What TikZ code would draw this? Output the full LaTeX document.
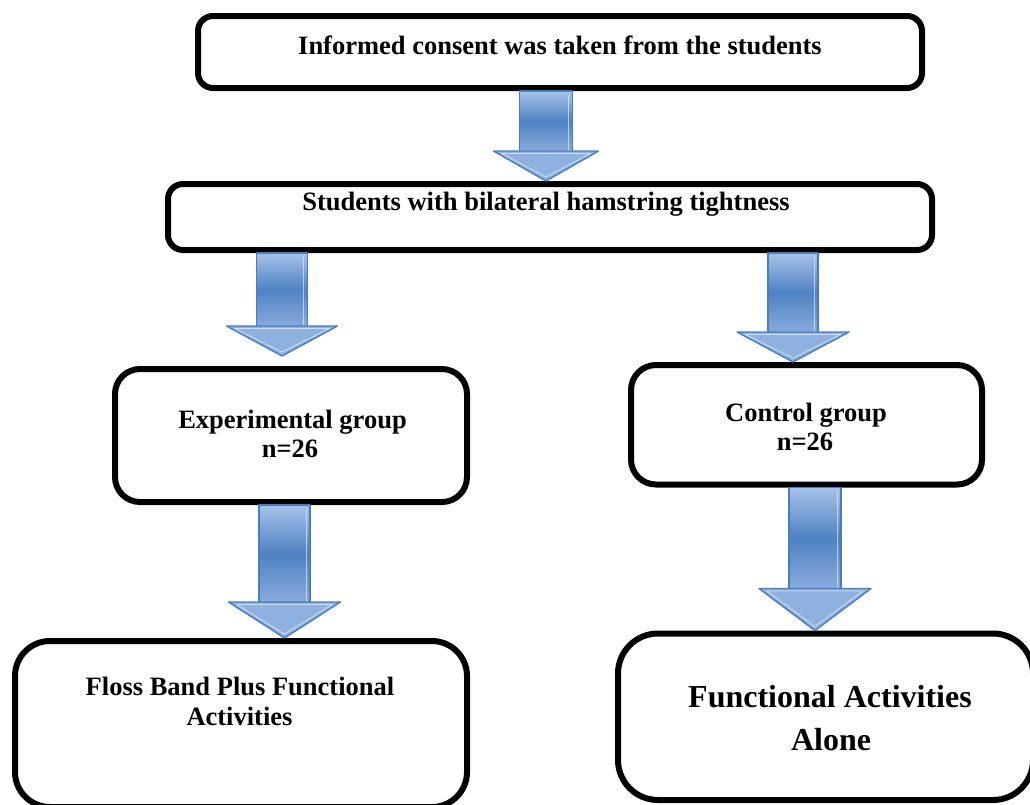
\documentclass[tikz,border=0pt]{standalone}
\usepackage{fontspec}
\setmainfont{Liberation Serif}
\usetikzlibrary{calc}
\definecolor{arTop}{HTML}{A6C2E8}
\definecolor{arMid}{HTML}{4F82C3}
\definecolor{arBot}{HTML}{88AADB}
\definecolor{arHead}{HTML}{8FB1E0}
\definecolor{arLine}{HTML}{4A7DBE}
\tikzset{
  box/.style={draw=black, line width=6, rounded corners=#1, fill=white, inner sep=0, outer sep=3},
  lbl/.style={font=\bfseries\fontsize{26.5}{30}\selectfont, anchor=base, inner sep=0},
  biglbl/.style={font=\bfseries\fontsize{32}{36}\selectfont, anchor=base, inner sep=0},
}
\newcommand\blockarr[5]{%
  \shade[top color=arTop, bottom color=arBot, middle color=arMid]
    let \p1=#1, \p2=#2 in (\x1-#3pt,\y1) rectangle (\x1+#3pt,\y2+#5pt);
  \draw[arLine, line width=1.4, line join=round]
    let \p1=#1, \p2=#2 in (\x1-#3pt,\y2+#5pt) -- (\x1-#3pt,\y1) -- (\x1+#3pt,\y1) -- (\x1+#3pt,\y2+#5pt);
  \draw[white, opacity=.55, line width=.8]
    let \p1=#1, \p2=#2 in (\x1+#3pt-4pt,\y1-4pt) -- (\x1+#3pt-4pt,\y2+#5pt);
  \filldraw[fill=arHead, draw=arLine, line width=1.4, line join=round]
    let \p1=#1, \p2=#2 in (\x1-#4pt,\y2+#5pt) -- (\x1+#4pt,\y2+#5pt) -- (\x1,\y2) -- cycle;
  \draw[white, opacity=.6, line width=.8, line join=round]
    let \p1=#1, \p2=#2 in (\x1-#4pt+8pt,\y2+#5pt-2.5pt) -- (\x1+#4pt-8pt,\y2+#5pt-2.5pt) -- (\x1,\y2+4pt) -- cycle;
}
\begin{document}
\begin{tikzpicture}[x=1pt, y=-1pt]
\useasboundingbox[fill=white] (0,0) rectangle (1030,804);

% boxes (line-centre geometry)
\node[box=15, minimum width=724, minimum height=72] (box1) at (560,52) {};
\node[box=15, minimum width=764, minimum height=66] (box2) at (550,217) {};
\node[box=25, minimum width=352, minimum height=133] (box3) at (291,435.5) {};
\node[box=25, minimum width=351, minimum height=119.5] (box4) at (806.5,424.75) {};
\node[box=35, minimum width=452, minimum height=166] (box5) at (241,724) {};
\node[box=40, minimum width=415, minimum height=166.5] (box6) at (825.5,716.75) {};

% block arrows between boxes
\blockarr{(546,0 |- box1.south)}{(546,0 |- box2.north)}{26.5}{52.5}{30}
\blockarr{(282,0 |- box2.south)}{($(282,0 |- box3.north)+(0,-10)$)}{25.5}{55.5}{30}
\blockarr{(793,0 |- box2.south)}{(793,0 |- box4.north)}{25}{56}{30}
\blockarr{(284.5,0 |- box3.south)}{(284.5,0 |- box5.north)}{25.5}{56}{36}
\blockarr{(815,0 |- box4.south)}{(815,0 |- box6.north)}{26}{56}{42}

% labels
\node[lbl] (t1) at (560,54) {Informed consent was taken from the students};
\node[lbl] (t2) at (546,210) {Students with bilateral hamstring tightness};
\node[lbl] (t3a) at (292.5,428) {Experimental group};
\node[lbl] (t3b) at (290,457) {n=26};
\node[lbl] (t4a) at (806,421) {Control group};
\node[lbl] (t4b) at (805,450) {n=26};
\node[lbl] (t5a) at (240,695) {Floss Band Plus Functional};
\node[lbl] (t5b) at (239.5,725) {Activities};
\node[biglbl] (t6a) at (830,707) {Functional Activities};
\node[biglbl] (t6b) at (831,750) {Alone};
\end{tikzpicture}
\end{document}
